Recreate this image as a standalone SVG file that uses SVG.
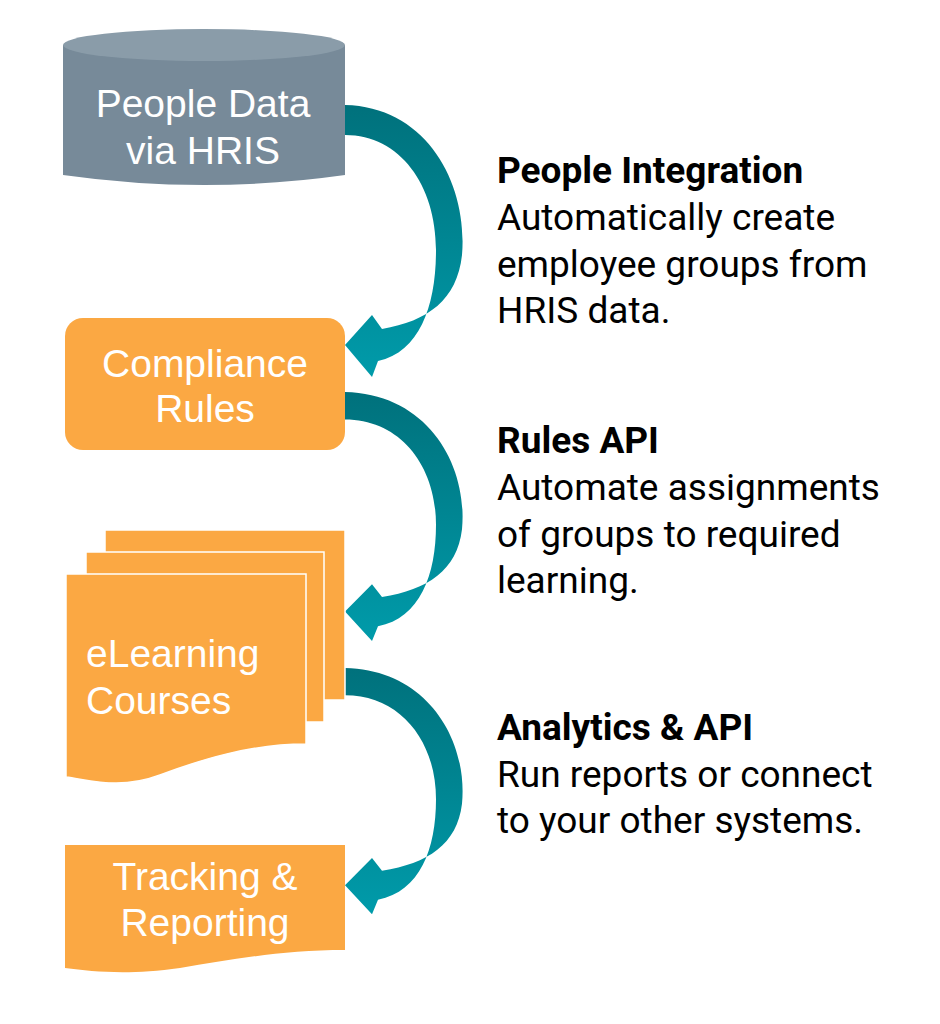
<svg xmlns="http://www.w3.org/2000/svg" width="940" height="1024" viewBox="0 0 940 1024">
<defs>
<linearGradient id="tg" x1="0" y1="0" x2="0" y2="1"><stop offset="0" stop-color="#00717C"/><stop offset="1" stop-color="#009BAA"/></linearGradient>
<path id="arr" d="M345,0 C428,2 468,80 462,150 C457,195 428,216 382,224 L372,210 L345,240 L372,272 L378,256 C420,247 436,200 436,145 C436,80 400,30 345,30 Z"/>
<style>
.n{fill:#FBA843}
.w{font-family:"Liberation Sans",Arial,sans-serif;font-size:39px;fill:#fff}
.t{font-family:Roboto,"Liberation Sans",sans-serif;font-size:37px;fill:#000}
.b{font-weight:bold}
</style>
</defs>
<rect width="940" height="1024" fill="#fff"/>
<g id="connectors" fill="url(#tg)">
<use href="#arr" transform="translate(0,105)"/>
<use href="#arr" transform="translate(0,392) scale(1,0.915)"/>
<use href="#arr" transform="translate(0,668) scale(1,0.905)"/>
</g>
<g id="people">
<path d="M63,45 L63,175 Q204,195 345,175 L345,45 Z" fill="#778A99"/>
<ellipse cx="204" cy="45" rx="141" ry="16" fill="#8A9CA9"/>
<text class="w" x="203" y="117" text-anchor="middle">People Data</text>
<text class="w" x="203" y="164" text-anchor="middle">via HRIS</text>
</g>
<g id="compliance">
<rect class="n" x="65" y="318" width="280" height="132" rx="18"/>
<text class="w" x="205" y="377" text-anchor="middle">Compliance</text>
<text class="w" x="205" y="422" text-anchor="middle">Rules</text>
</g>
<g id="elearning" stroke="#fff" stroke-width="1.5">
<path class="n" d="M105,530 H345 V700 H105 Z"/>
<path class="n" d="M86,552 H324 V722 H86 Z"/>
<path class="n" d="M66,574 H306 V744 C250,744 200,760 160,775 C120,790 90,780 66,777 Z"/>
<text class="w" x="86" y="667" stroke="none">eLearning</text>
<text class="w" x="86" y="714" stroke="none">Courses</text>
</g>
<g id="tracking">
<path class="n" d="M65,845 H345 V950 C280,950 230,960 180,968 C130,975 95,972 65,968 Z"/>
<text class="w" x="205" y="890" text-anchor="middle">Tracking &amp;</text>
<text class="w" x="205" y="936" text-anchor="middle">Reporting</text>
</g>
<g id="desc1">
<text class="t b" x="497" y="183">People Integration</text>
<text class="t" x="497" y="230">Automatically create</text>
<text class="t" x="497" y="277">employee groups from</text>
<text class="t" x="497" y="323">HRIS data.</text>
</g>
<g id="desc2">
<text class="t b" x="497" y="453">Rules API</text>
<text class="t" x="497" y="500">Automate assignments</text>
<text class="t" x="497" y="547">of groups to required</text>
<text class="t" x="497" y="593">learning.</text>
</g>
<g id="desc3">
<text class="t b" x="497" y="740">Analytics &amp; API</text>
<text class="t" x="497" y="787">Run reports or connect</text>
<text class="t" x="497" y="833">to your other systems.</text>
</g>
</svg>
